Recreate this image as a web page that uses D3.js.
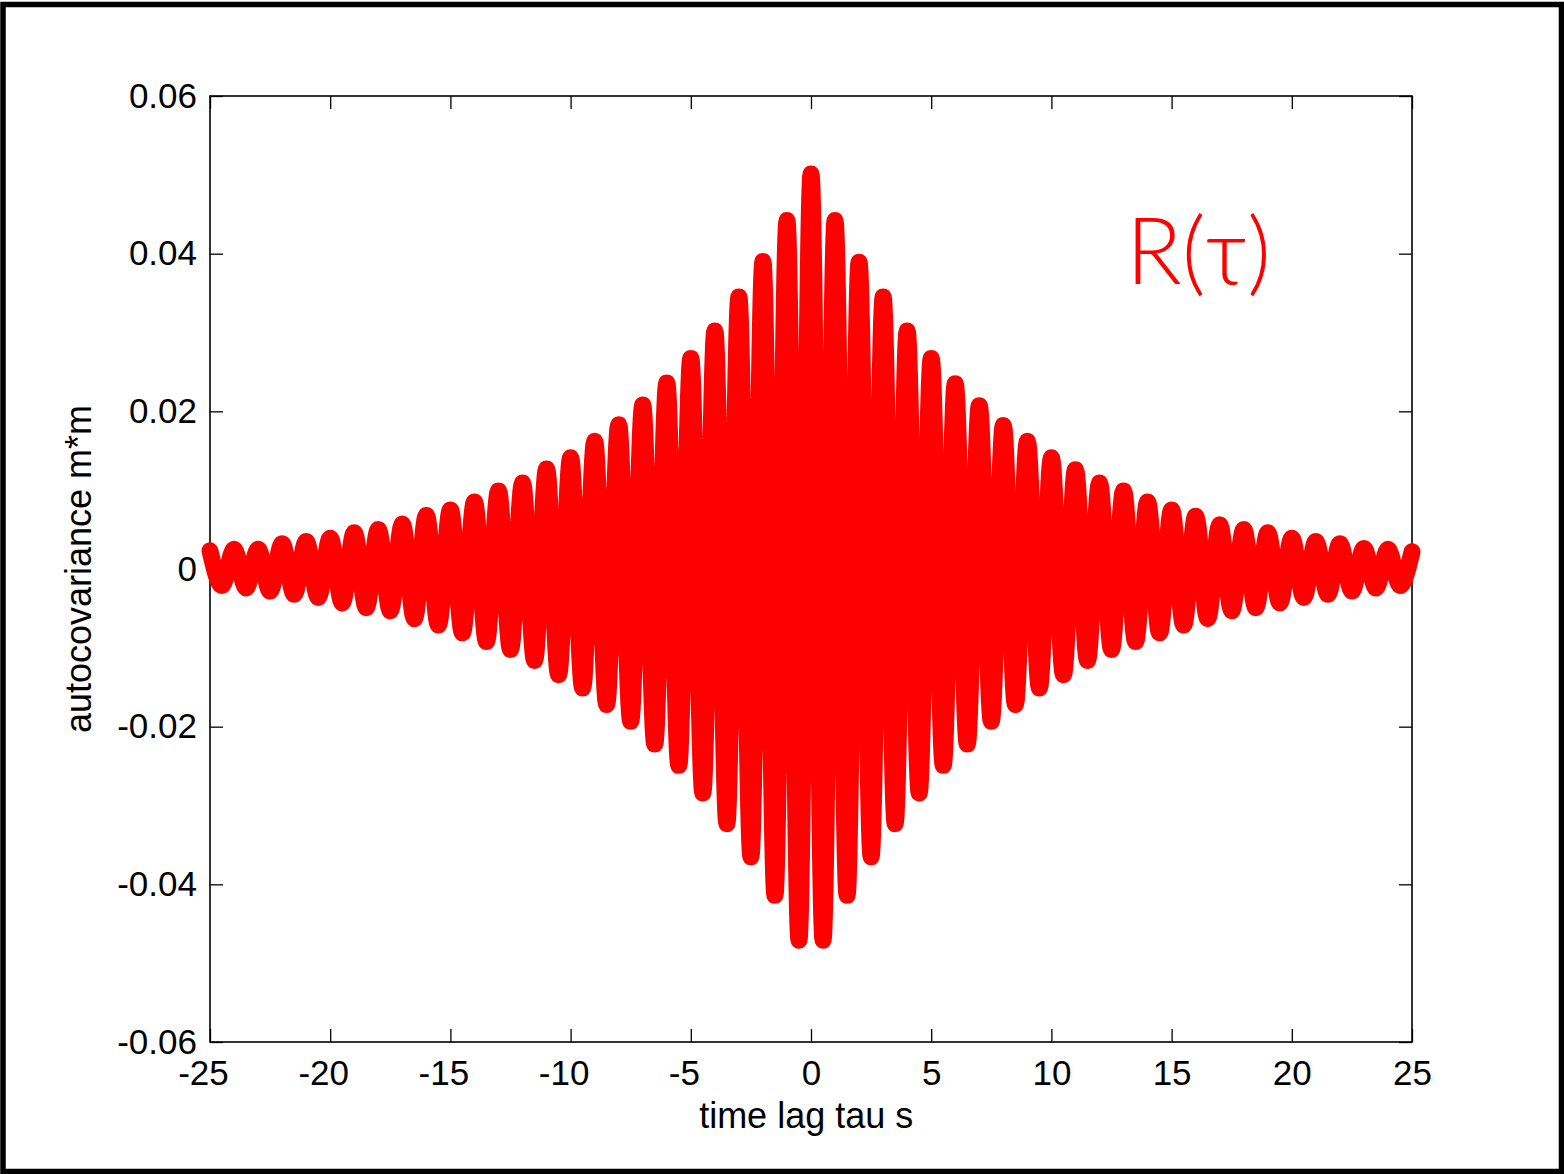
<!DOCTYPE html>
<html>
<head>
<meta charset="utf-8">
<script src="https://cdn.jsdelivr.net/npm/d3@7"></script>
<style>
  body { margin: 0; background: #fff; }
  svg { display: block; }
</style>
</head>
<body>
<div id="chart"></div>
<script>
// values: extremes of the autocovariance, every half second
var lags = [-25, -24.5, -24, -23.5, -23, -22.5, -22, -21.5, -21, -20.5,
            -20, -19.5, -19, -18.5, -18, -17.5, -17, -16.5, -16, -15.5,
            -15, -14.5, -14, -13.5, -13, -12.5, -12, -11.5, -11, -10.5,
            -10, -9.5, -9, -8.5, -8, -7.5, -7, -6.5, -6, -5.5,
            -5, -4.5, -4, -3.5, -3, -2.5, -2, -1.5, -1, -0.5,
            0,
            0.5, 1, 1.5, 2, 2.5, 3, 3.5, 4, 4.5, 5,
            5.5, 6, 6.5, 7, 7.5, 8, 8.5, 9, 9.5, 10,
            10.5, 11, 11.5, 12, 12.5, 13, 13.5, 14, 14.5, 15,
            15.5, 16, 16.5, 17, 17.5, 18, 18.5, 19, 19.5, 20,
            20.5, 21, 21.5, 22, 22.5, 23, 23.5, 24, 24.5, 25];

var acov = [0.0023, -0.0021, 0.0025, -0.0024, 0.0025, -0.0028, 0.0032, -0.0032, 0.0035, -0.0036,
            0.0039, -0.0043, 0.0046, -0.0049, 0.0050, -0.0053, 0.0057, -0.0063, 0.0068, -0.0071,
            0.0075, -0.0081, 0.0085, -0.0092, 0.0099, -0.0102, 0.0109, -0.0116, 0.0127, -0.0134,
            0.0141, -0.0151, 0.0162, -0.0172, 0.0183, -0.0193, 0.0208, -0.0222, 0.0236, -0.0249,
            0.0267, -0.0284, 0.0302, -0.0323, 0.0345, -0.0365, 0.0390, -0.0414, 0.0442, -0.0471,
            0.0501,
            -0.0471, 0.0442, -0.0414, 0.0389, -0.0365, 0.0345, -0.0323, 0.0302, -0.0284, 0.0267,
            -0.0249, 0.0235, -0.0222, 0.0207, -0.0193, 0.0182, -0.0172, 0.0162, -0.0151, 0.0141,
            -0.0134, 0.0126, -0.0116, 0.0109, -0.0102, 0.0099, -0.0092, 0.0085, -0.0081, 0.0075,
            -0.0071, 0.0067, -0.0063, 0.0056, -0.0053, 0.0050, -0.0049, 0.0046, -0.0043, 0.0039,
            -0.0036, 0.0035, -0.0032, 0.0032, -0.0028, 0.0026, -0.0024, 0.0025, -0.0021, 0.0022];

var xTicks = [-25, -20, -15, -10, -5, 0, 5, 10, 15, 20, 25];
var yTicks = [-0.06, -0.04, -0.02, 0, 0.02, 0.04, 0.06];
var yTickLabels = ["-0.06", "-0.04", "-0.02", "0", "0.02", "0.04", "0.06"];

var W = 1564, H = 1174;
var margin = {top: 96, right: 152, bottom: 132, left: 210},
    width = W - margin.left - margin.right,
    height = H - margin.top - margin.bottom;

var root = d3.select("#chart")
  .append("svg")
    .attr("width", W)
    .attr("height", H);

// black frame round the whole figure
root.append("rect")
    .attr("x", 3).attr("y", 4.5)
    .attr("width", W - 5.5).attr("height", H - 7)
    .attr("fill", "none")
    .attr("stroke", "#000")
    .attr("stroke-width", 5.5);

var svg = root.append("g")
    .attr("transform", "translate(" + margin.left + "," + margin.top + ")");

var x = d3.scaleLinear().domain([-25, 25]).range([0, width]);
var y = d3.scaleLinear().domain([-0.06, 0.06]).range([height, 0]);

var font = "'Liberation Sans', Arial, Helvetica, sans-serif";

// X axis (ticks pointing in)
var gx = svg.append("g")
    .attr("transform", "translate(0," + height + ")")
    .call(d3.axisBottom(x)
      .tickValues(xTicks)
      .tickSizeInner(-13).tickSizeOuter(0).tickPadding(18)
      .tickFormat(function(d) { return (d < 0 ? "-" : "") + Math.abs(d); }));
gx.selectAll("text")
    .attr("dx", function(d) { return d < 0 ? -7 : 0; });

// Y axis
var gy = svg.append("g")
    .call(d3.axisLeft(y)
      .tickValues(yTicks)
      .tickSizeInner(-13).tickSizeOuter(0).tickPadding(13)
      .tickFormat(function(d, i) { return yTickLabels[i]; }));

// top and right ticks, no labels
svg.append("g")
    .call(d3.axisTop(x).tickValues(xTicks).tickSizeInner(-13).tickSizeOuter(0).tickFormat(""));
svg.append("g")
    .attr("transform", "translate(" + width + ",0)")
    .call(d3.axisRight(y).tickValues(yTicks).tickSizeInner(-13).tickSizeOuter(0).tickFormat(""));

svg.selectAll(".domain").remove();
svg.selectAll(".tick line").attr("stroke", "#000").attr("stroke-width", 1.3);
svg.selectAll(".tick text")
    .attr("font-family", font)
    .attr("font-size", 35)
    .attr("fill", "#000");

svg.append("rect")
    .attr("width", width).attr("height", height)
    .attr("fill", "none")
    .attr("stroke", "#000")
    .attr("stroke-width", 1.6);

// axis labels
svg.append("text")
    .attr("x", x(-0.2))
    .attr("y", height + 86)
    .attr("text-anchor", "middle")
    .attr("font-family", font)
    .attr("font-size", 36)
    .text("time lag tau s");

svg.append("text")
    .attr("transform", "translate(" + (-119) + "," + y(0) + ") rotate(-90)")
    .attr("text-anchor", "middle")
    .attr("font-family", font)
    .attr("font-size", 36)
    .text("autocovariance m*m");

// the autocovariance curve, very fat red line
var line = d3.line()
    .x(function(d, i) { return x(lags[i]); })
    .y(function(d) { return y(d); })
    .curve(d3.curveMonotoneX);

svg.append("path")
    .datum(acov)
    .attr("fill", "none")
    .attr("stroke", "#ff0000")
    .attr("stroke-width", 17)
    .attr("stroke-linejoin", "round")
    .attr("stroke-linecap", "round")
    .attr("d", line);

// hand-written note
svg.append("text")
    .attr("x", x(13.1))
    .attr("y", y(0.0362))
    .attr("font-family", "Lato, 'Open Sans', sans-serif")
    .attr("font-weight", 300)
    .attr("font-size", 92)
    .attr("fill", "#ff0000")
    .text("R(τ)");
</script>
</body>
</html>
